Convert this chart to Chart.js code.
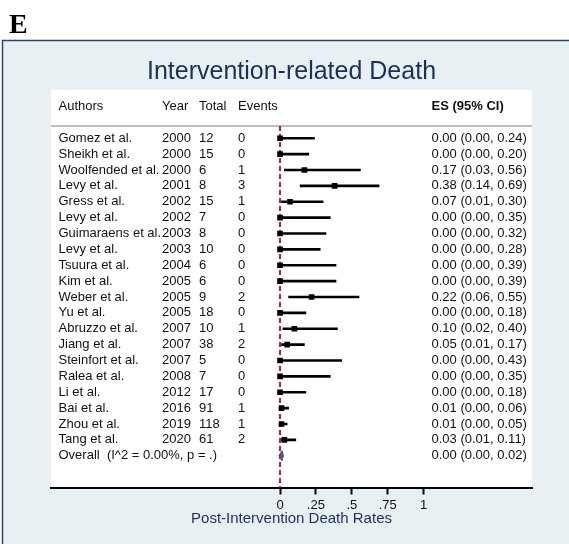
<!DOCTYPE html>
<html>
<head>
<meta charset="utf-8">
<title>Intervention-related Death</title>
<script src="https://cdn.jsdelivr.net/npm/chart.js@4"></script>
<style>
    body { margin: 0; background: #fff; }
    canvas { display: block; }
</style>
</head>
<body>
<canvas id="chart" width="569" height="544"></canvas>
<script>
const authors = ['Gomez et al.', 'Sheikh et al.', 'Woolfended et al.', 'Levy et al.', 'Gress et al.',
    'Levy et al.', 'Guimaraens et al.', 'Levy et al.', 'Tsuura et al.', 'Kim et al.',
    'Weber et al.', 'Yu et al.', 'Abruzzo et al.', 'Jiang et al.', 'Steinfort et al.',
    'Ralea et al.', 'Li et al.', 'Bai et al.', 'Zhou et al.', 'Tang et al.'];
const years = [2000, 2000, 2000, 2001, 2002, 2002, 2003, 2003, 2004, 2005,
    2005, 2005, 2007, 2007, 2007, 2008, 2012, 2016, 2019, 2020];
const totals = [12, 15, 6, 8, 15, 7, 8, 10, 6, 6, 9, 18, 10, 38, 5, 7, 17, 91, 118, 61];
const events = [0, 0, 1, 3, 1, 0, 0, 0, 0, 0, 2, 0, 1, 2, 0, 0, 0, 1, 1, 2];
const es = [0.00, 0.00, 0.17, 0.38, 0.07, 0.00, 0.00, 0.00, 0.00, 0.00,
    0.22, 0.00, 0.10, 0.05, 0.00, 0.00, 0.00, 0.01, 0.01, 0.03];
const ciLow = [0.00, 0.00, 0.03, 0.14, 0.01, 0.00, 0.00, 0.00, 0.00, 0.00,
    0.06, 0.00, 0.02, 0.01, 0.00, 0.00, 0.00, 0.00, 0.00, 0.01];
const ciHigh = [0.24, 0.20, 0.56, 0.69, 0.30, 0.35, 0.32, 0.28, 0.39, 0.39,
    0.55, 0.18, 0.40, 0.17, 0.43, 0.35, 0.18, 0.06, 0.05, 0.11];
const overallLabel = 'Overall  (I^2 = 0.00%, p = .)';
const overallEs = 0.00;
const overallLow = 0.00;
const overallHigh = 0.02;
const tickValues = [0, 0.25, 0.5, 0.75, 1];
const tickLabels = ['0', '.25', '.5', '.75', '1'];

const overallRow = authors.length;
const FONT = '"Liberation Sans", Arial, Helvetica, sans-serif';
const navy = '#1e2e5c';

Chart.defaults.font.family = FONT;

function fmt(v) {
    return v.toFixed(2);
}

const forestPlugin = {
    id: 'forest',
    beforeDraw(chart) {
        const ctx = chart.ctx;
        const area = chart.chartArea;
        ctx.save();
        ctx.fillStyle = '#fff';
        ctx.fillRect(0, 0, chart.width, chart.height);
        // outer graph region
        ctx.fillStyle = '#e8f0f3';
        ctx.fillRect(2.5, 40.5, chart.width, chart.height);
        ctx.strokeStyle = '#2c4670';
        ctx.lineWidth = 1.5;
        ctx.beginPath();
        ctx.moveTo(2.5, chart.height);
        ctx.lineTo(2.5, 40.5);
        ctx.lineTo(chart.width, 40.5);
        ctx.stroke();
        // plot region
        ctx.fillStyle = '#fff';
        ctx.fillRect(area.left, area.top, area.right - area.left, area.bottom - area.top);
        // panel letter
        ctx.fillStyle = '#000';
        ctx.font = 'bold 28px "Liberation Serif", "Times New Roman", serif';
        ctx.textBaseline = 'alphabetic';
        ctx.fillText('E', 9, 33);
        ctx.restore();
    },
    beforeDatasetsDraw(chart) {
        const ctx = chart.ctx;
        const area = chart.chartArea;
        const x = chart.scales.x;
        const y = chart.scales.y;
        ctx.save();
        // separator under header
        const sepY = y.getPixelForValue(-0.78);
        ctx.strokeStyle = '#bdbdbd';
        ctx.lineWidth = 2;
        ctx.beginPath();
        ctx.moveTo(area.left, sepY);
        ctx.lineTo(area.right, sepY);
        ctx.stroke();
        // pooled estimate diamond
        const yc = y.getPixelForValue(overallRow);
        const xl = x.getPixelForValue(overallLow);
        const xr = x.getPixelForValue(overallHigh);
        const xm = x.getPixelForValue(overallEs);
        ctx.fillStyle = '#4a6a9a';
        ctx.strokeStyle = '#2c4670';
        ctx.lineWidth = 1;
        ctx.beginPath();
        ctx.moveTo(xl - 1, yc);
        ctx.lineTo((xm + xr) / 2 + 0.5, yc - 5);
        ctx.lineTo(xr + 0.5, yc);
        ctx.lineTo((xm + xr) / 2 + 0.5, yc + 5);
        ctx.closePath();
        ctx.fill();
        ctx.stroke();
        ctx.restore();
    },
    afterDatasetsDraw(chart) {
        const ctx = chart.ctx;
        const y = chart.scales.y;
        const cols = { author: 58.5, year: 162, total: 199, events: 238, es: 431.5 };
        ctx.save();
        ctx.textBaseline = 'middle';
        ctx.textAlign = 'left';
        ctx.fillStyle = '#111';
        ctx.font = '13px ' + FONT;
        const hy = y.getPixelForValue(-2.0);
        ctx.fillText('Authors', cols.author, hy);
        ctx.fillText('Year', cols.year, hy);
        ctx.fillText('Total', cols.total, hy);
        ctx.fillText('Events', cols.events, hy);
        ctx.font = 'bold 13px ' + FONT;
        ctx.fillText('ES (95% CI)', cols.es, hy);

        ctx.font = '13px ' + FONT;
        authors.forEach((name, i) => {
            const py = y.getPixelForValue(i);
            ctx.fillText(name, cols.author, py);
            ctx.fillText(String(years[i]), cols.year, py);
            ctx.fillText(String(totals[i]), cols.total, py);
            ctx.fillText(String(events[i]), cols.events, py);
            ctx.fillText(`${fmt(es[i])} (${fmt(ciLow[i])}, ${fmt(ciHigh[i])})`, cols.es, py);
        });
        const oy = y.getPixelForValue(overallRow);
        ctx.fillText(overallLabel, cols.author, oy);
        ctx.fillText(`${fmt(overallEs)} (${fmt(overallLow)}, ${fmt(overallHigh)})`, cols.es, oy);
        ctx.restore();
    }
};

new Chart(document.getElementById('chart'), {
    type: 'scatter',
    data: {
        datasets: [
            {
                type: 'line',
                label: 'null',
                data: [{ x: 0, y: -0.78 }, { x: 0, y: 22.2 }],
                borderColor: '#c8173f',
                borderWidth: 2,
                borderDash: [5, 3],
                pointRadius: 0,
                order: 3
            },
            {
                type: 'bar',
                label: '95% CI',
                indexAxis: 'y',
                data: ciLow.map((lo, i) => ({ y: i, x: [lo, ciHigh[i]] })),
                backgroundColor: '#000',
                borderWidth: 0,
                borderSkipped: false,
                barThickness: 2,
                order: 2
            },
            {
                label: 'ES',
                data: es.map((v, i) => ({ x: v, y: i })),
                pointStyle: 'rect',
                pointRadius: 4,
                backgroundColor: '#000',
                borderWidth: 0,
                order: 1
            }
        ]
    },
    options: {
        responsive: false,
        animation: false,
        events: [],
        layout: { padding: { left: 51, right: 37, top: 0, bottom: 0 } },
        plugins: {
            legend: { display: false },
            tooltip: { enabled: false },
            title: {
                display: true,
                text: 'Intervention-related Death',
                color: navy,
                font: { size: 25, weight: 'normal', family: FONT },
                padding: { top: 57.5, bottom: 2.5 }
            }
        },
        scales: {
            x: {
                type: 'linear',
                min: -1.595,
                max: 1.755,
                offset: false,
                afterBuildTicks: scale => {
                    scale.ticks = tickValues.map(v => ({ value: v }));
                },
                afterFit: scale => {
                    scale.height = 56.5;
                },
                ticks: {
                    autoSkip: false,
                    maxRotation: 0,
                    padding: 3,
                    color: '#111',
                    font: { size: 13 },
                    callback: (value, index) => tickLabels[index]
                },
                grid: {
                    drawOnChartArea: false,
                    drawTicks: true,
                    tickLength: 7,
                    tickColor: '#000',
                    tickWidth: 2,
                    offset: false
                },
                border: { display: true, color: '#000', width: 2 },
                title: {
                    display: true,
                    text: 'Post-Intervention Death Rates',
                    color: navy,
                    font: { size: 15 },
                    padding: { top: 0, bottom: 16 }
                }
            },
            y: {
                type: 'linear',
                display: false,
                reverse: true,
                min: -3.04,
                max: 22.0,
                offset: false,
                grid: { offset: false }
            }
        }
    },
    plugins: [forestPlugin]
});
</script>
</body>
</html>
